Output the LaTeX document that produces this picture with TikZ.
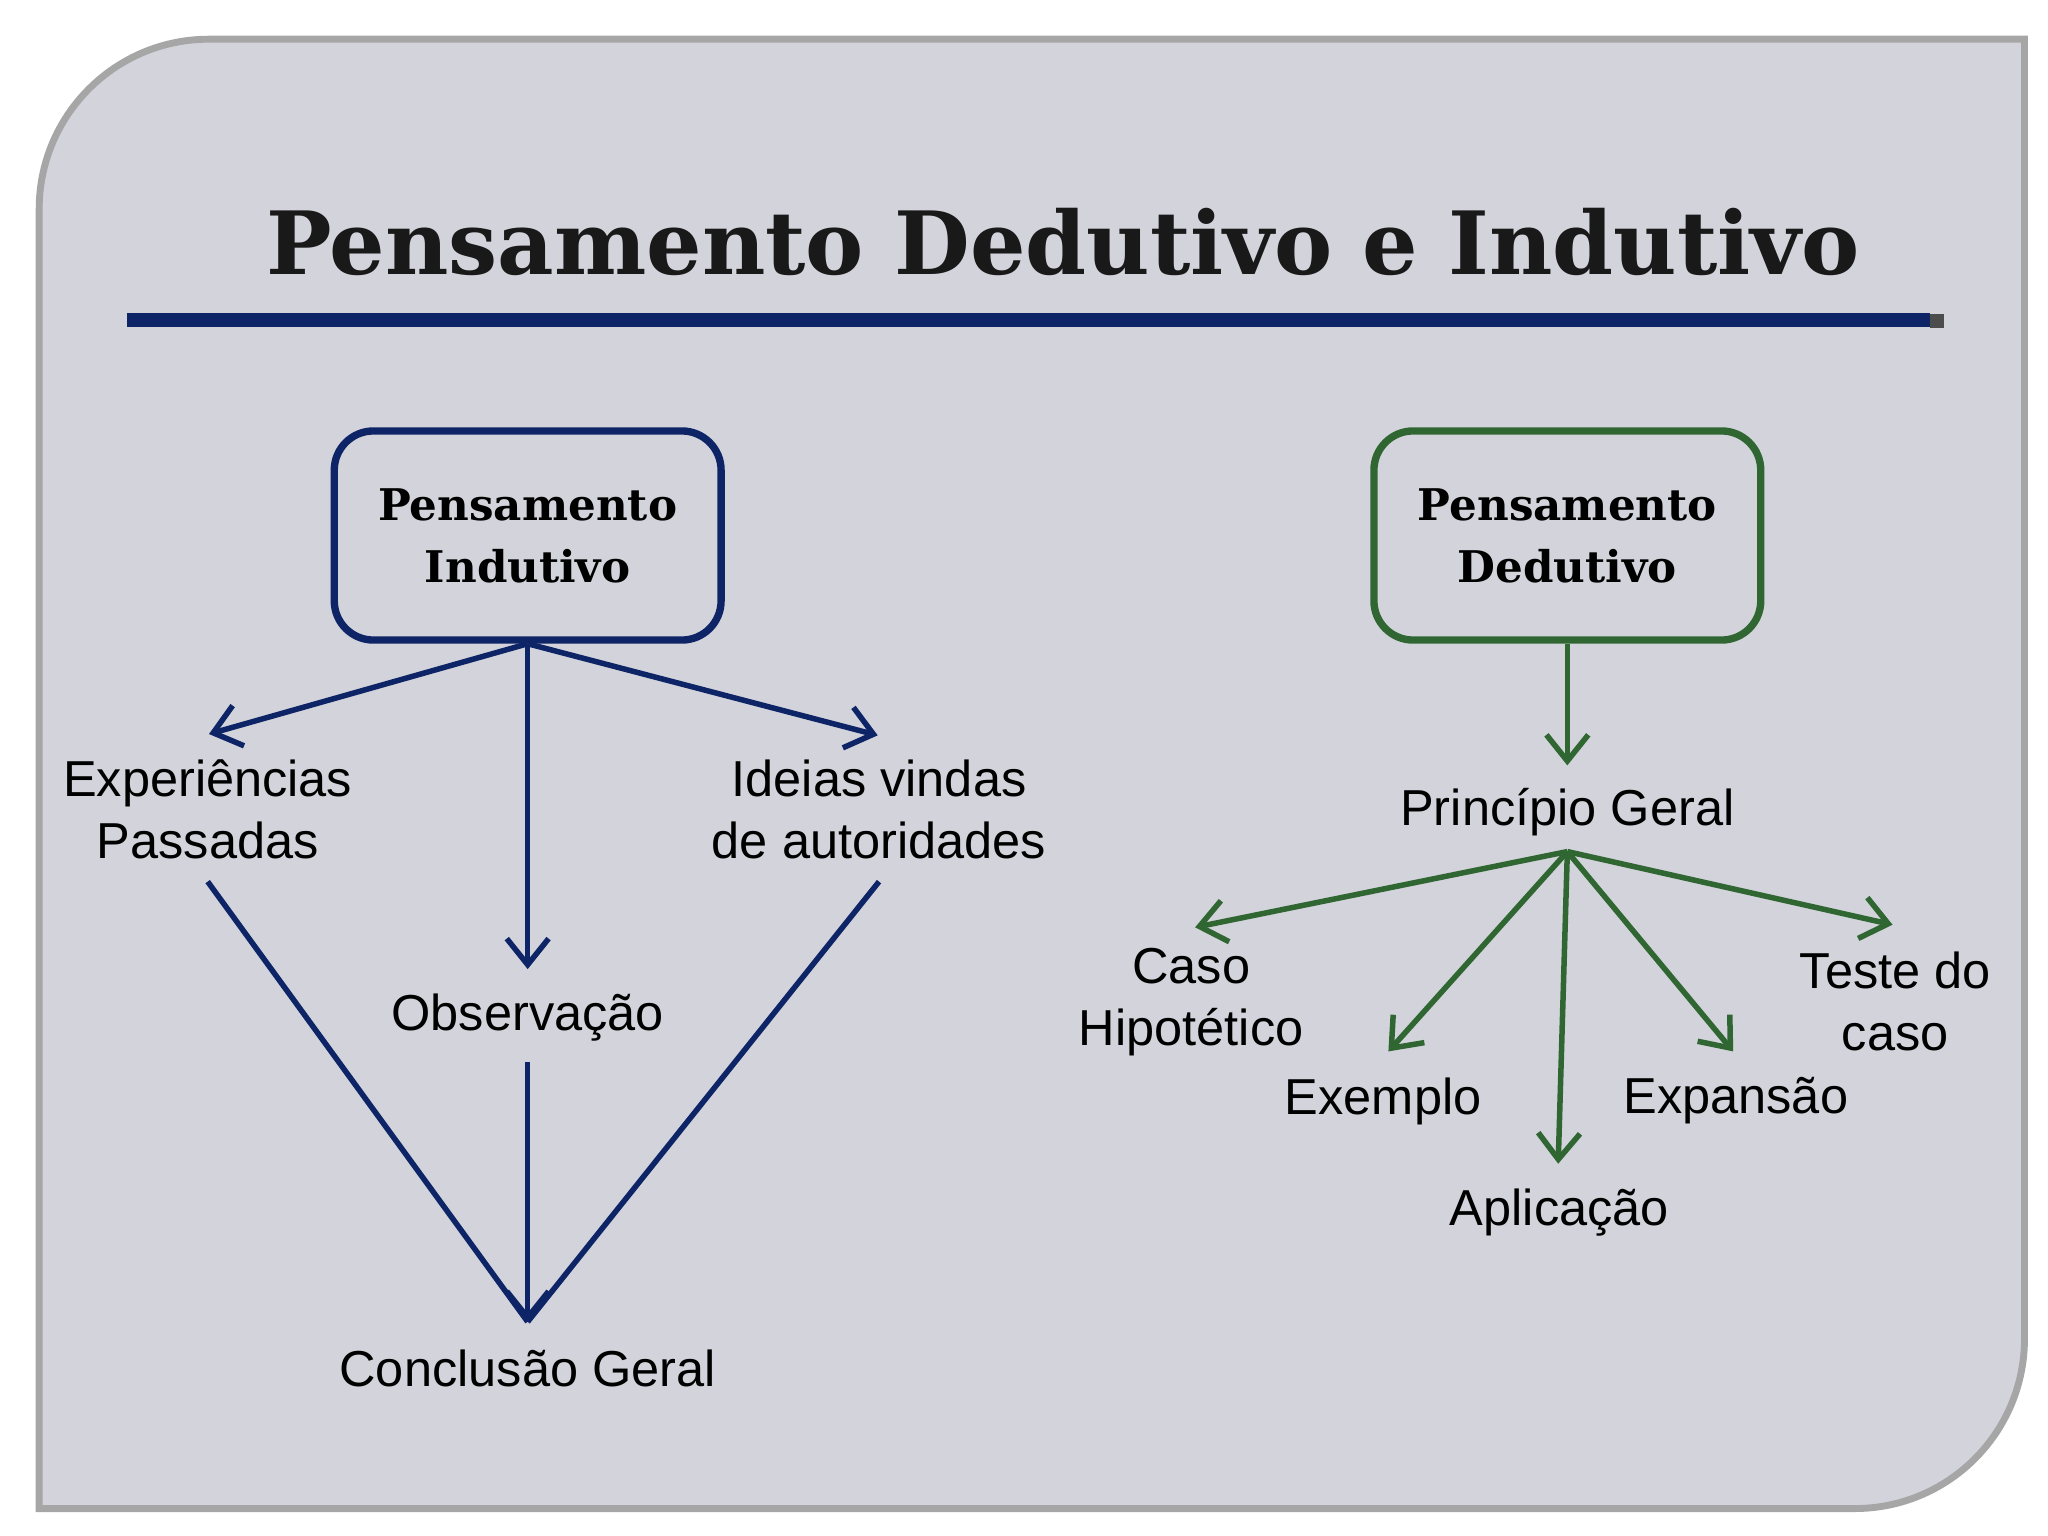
\documentclass[tikz,border=0pt]{standalone}
\usepackage{fontspec}
\setmainfont{Liberation Sans}
\newfontfamily\titlefont{DejaVu Serif}
\usetikzlibrary{arrows.meta}
\definecolor{slide}{HTML}{D3D3DB}
\definecolor{navy}{HTML}{0D2466}
\definecolor{dgreen}{HTML}{2F6631}
\tikzset{
  lbl/.style={font=\fontsize{11}{13.5}\selectfont, align=center, inner sep=1pt},
  boxnode/.style={draw, line width=1.6pt, rounded corners=0.3cm, minimum width=2.96cm, minimum height=1.6cm, align=center, font=\titlefont\bfseries\fontsize{9.5}{13.5}\selectfont},
  narr/.style={navy, line width=1.2pt, -{Straight Barb[length=2mm,width=3.2mm]}},
  nline/.style={navy, line width=1.2pt},
  garr/.style={dgreen, line width=1.2pt, -{Straight Barb[length=2mm,width=3.2mm]}}
}
\begin{document}
\begin{tikzpicture}[x=0.01cm,y=-0.01cm]
\useasboundingbox (0,0) rectangle (1568,1176);
\fill[white] (0,0) rectangle (1568,1176);
% slide
\draw[gray!70, line width=1.5pt, fill=slide] (30,160) arc[start angle=180,end angle=270,radius=130] -- (1550,30) -- (1550,1025) arc[start angle=0,end angle=90,radius=130] -- (30,1155) -- cycle;
% title
\node[font=\titlefont\bfseries\fontsize{19}{24}\selectfont, text=black!90] (title) at (814,185) {Pensamento Dedutivo e Indutivo};
\draw[navy, line width=3pt] (97,245) -- (1478,245);
\draw[black!70, line width=3pt] (1478,246) -- (1488,246);
% inductive
\node[boxnode, draw=navy] (ind) at (404,410) {Pensamento\\Indutivo};
\node[lbl] (exp) at (159,620) {Experiências\\Passadas};
\node[lbl] (ide) at (673,620) {Ideias vindas\\de autoridades};
\node[lbl] (obs) at (404,779) {Observação};
\node[lbl] (con) at (404,1048) {Conclusão Geral};
\coordinate (c) at (404,1012);
\draw[narr] (ind.south) -- (160,562);
\draw[narr] (ind.south) -- (672,563);
\draw[narr] (ind.south) -- (404,742);
\draw[narr] (obs.south) ++(0,12) -- (c);
\draw[nline] (159,675) -- (c);
\draw[nline] (673,675) -- (c);
% deductive
\node[boxnode, draw=dgreen] (ded) at (1200,410) {Pensamento\\Dedutivo};
\node[lbl] (pri) at (1200,622) {Princípio Geral};
\draw[garr] (ded.south) -- (1200,586);
\coordinate (p) at (1200,652);
\node[lbl] (caso) at (912,767) {Caso\\Hipotético};
\node[lbl] (exe) at (1059,843) {Exemplo};
\node[lbl] (apl) at (1194,928) {Aplicação};
\node[lbl] (expa) at (1329,843) {Expansão};
\node[lbl] (tes) at (1451,767) {Teste do\\caso};
\draw[garr] (p) -- (915,710);
\draw[garr] (p) -- (1063,805);
\draw[garr] (p) -- (1193,891);
\draw[garr] (p) -- (1327,805);
\draw[garr] (p) -- (1449,708);
\end{tikzpicture}
\end{document}
